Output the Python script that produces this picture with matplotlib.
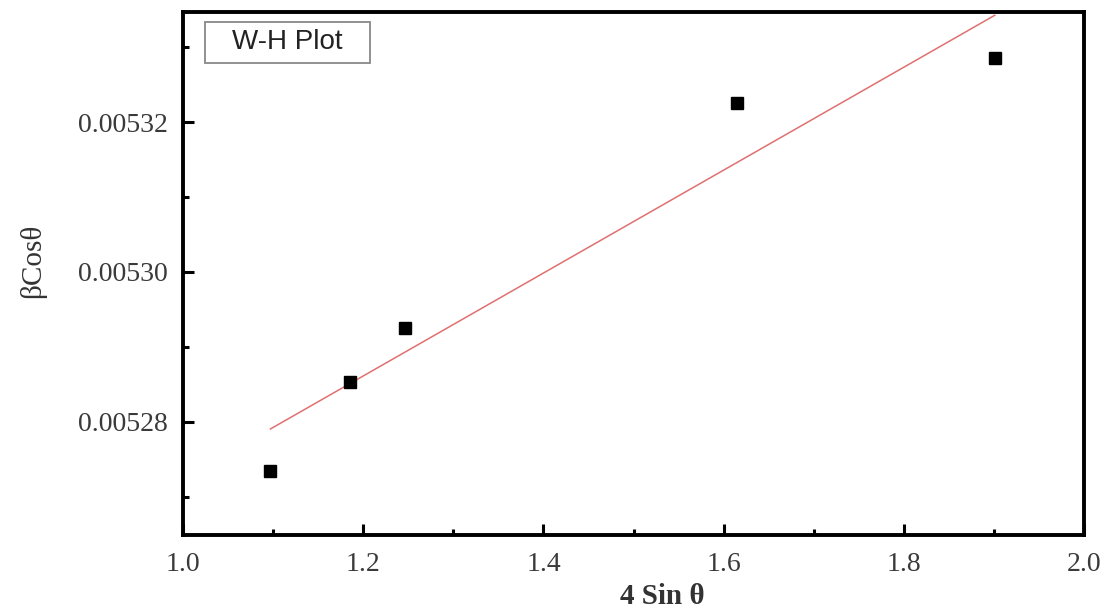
import numpy as np
import matplotlib
matplotlib.use('Agg')
import matplotlib.pyplot as plt
from matplotlib.patches import Rectangle
from matplotlib.ticker import MultipleLocator, FormatStrFormatter

# W-H plot data
sin4 = [1.097, 1.185, 1.246, 1.615, 1.901]
bcos = [0.0052734, 0.0052853, 0.0052925, 0.0053226, 0.0053285]

x = np.array(sin4)
y = np.array(bcos)
m, c = np.polyfit(x, y, 1)
xf = np.array([x.min(), x.max()])

fig = plt.figure(figsize=(11.06, 6.14), dpi=100)
ax = fig.add_axes([0.1655, 0.1287, 0.8146, 0.8518])

ax.plot(xf, m * xf + c, color='#e07070', lw=1.1)
ax.plot(x, y, 's', color='black', markersize=9)

ax.set_xlim(1.0, 2.0)
ax.set_ylim(0.0052649, 0.0053347)
ax.xaxis.set_major_locator(MultipleLocator(0.2))
ax.xaxis.set_minor_locator(MultipleLocator(0.1))
ax.yaxis.set_major_locator(MultipleLocator(0.00002))
ax.yaxis.set_minor_locator(MultipleLocator(0.00001))
ax.xaxis.set_major_formatter(FormatStrFormatter('%.1f'))
ax.yaxis.set_major_formatter(FormatStrFormatter('%.5f'))

for s in ax.spines.values():
    s.set_linewidth(2.8)
ax.tick_params(which='both', direction='in', width=2.2, top=False, right=False)
ax.tick_params(which='major', length=8)
ax.tick_params(axis='y', which='major', pad=11)
ax.tick_params(axis='x', which='major', pad=12)
ax.tick_params(which='minor', length=4)
for lab in ax.get_xticklabels() + ax.get_yticklabels():
    lab.set_family('Liberation Serif')
    lab.set_fontsize(20)
    lab.set_color('#3a3a3a')

ax.set_xlabel('4 Sin θ', family='Liberation Serif', fontsize=21, fontweight='bold',
              color='#333333', va='center')
ax.xaxis.set_label_coords(0.532, -0.117)
ax.set_ylabel('βCosθ', family='Liberation Serif', fontsize=21, color='#333333')
ax.yaxis.set_label_coords(-0.152, 0.525)

# title box
ax.add_patch(Rectangle((0.0244, 0.9025), 0.183, 0.0785, transform=ax.transAxes,
                       fc='white', ec='#888888', lw=1.3, zorder=3))
ax.text(0.116, 0.9418, 'W-H Plot', transform=ax.transAxes, family='Liberation Sans',
        fontsize=20, color='#222222', va='center', ha='center', zorder=4)

fig.savefig('out.png', dpi=100)
